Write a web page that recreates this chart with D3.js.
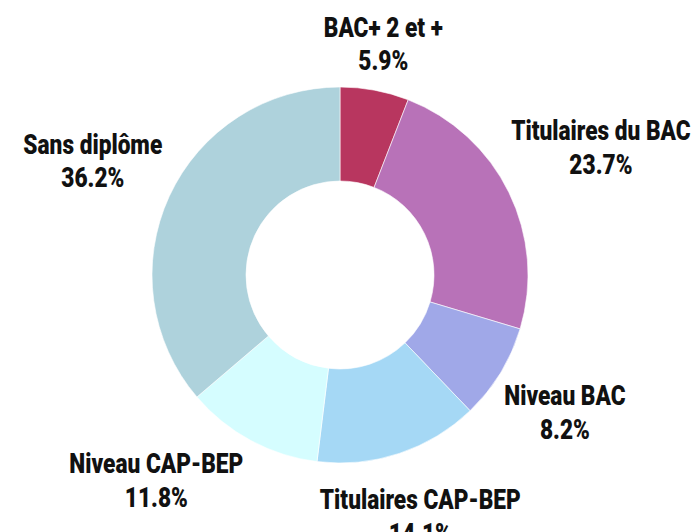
<!DOCTYPE html>
<html>
<head>
<meta charset="utf-8">
<script src="https://cdn.jsdelivr.net/npm/d3@7"></script>
<style>
	body { margin: 0; background: #fff; }
	.label text {
		font-family: "Roboto", "Noto Sans", sans-serif;
		font-weight: 900;
		font-size: 27px;
		fill: #111;
	}
</style>
</head>
<body>
<div id="wrapper"></div>
<script>

// Data

const categories = ["BAC+ 2 et +", "Titulaires du BAC", "Niveau BAC", "Titulaires CAP-BEP", "Niveau CAP-BEP", "Sans diplôme"];
const values = [5.9, 23.7, 8.2, 14.1, 11.8, 36.2];
const valueLabels = ["5.9%", "23.7%", "8.2%", "14.1%", "11.8%", "36.2%"];
const colors = ["#b8365f", "#b872b8", "#a0a8e8", "#a5d8f5", "#d5fdff", "#aed2dc"];

function drawDonut() {

	// 1. Dimensions

	let dimensions = {
		width: 699,
		height: 532,
		cx: 340,
		cy: 275,
		outerRadius: 188,
		innerRadius: 94,
		labelRadius: 198
	};

	// condensed look for the labels
	const squeeze = 0.84;

	// 2. Draw canvas

	const wrapper = d3.select("#wrapper")
		.append("svg")
		.attr("width", dimensions.width)
		.attr("height", dimensions.height);

	const bounds = wrapper.append("g")
		.attr("transform", `translate(${dimensions.cx},${dimensions.cy})`);

	// 3. Pie layout

	const pie = d3.pie()
		.sort(null)
		.value(d => d);

	const arcs = pie(values);

	const arcGenerator = d3.arc()
		.innerRadius(dimensions.innerRadius)
		.outerRadius(dimensions.outerRadius);

	const colorScale = d3.scaleOrdinal()
		.domain(categories)
		.range(colors);

	// 4. Draw slices

	bounds.selectAll(".slice")
		.data(arcs)
		.join("path")
		.attr("class", "slice")
		.attr("d", arcGenerator)
		.attr("fill", (d, i) => colorScale(categories[i]))
		.attr("stroke", "#fff")
		.attr("stroke-width", 0.6);

	// 5. Labels

	const labels = bounds.selectAll(".label")
		.data(arcs)
		.join("g")
		.attr("class", "label");

	labels.append("text")
		.attr("text-anchor", "middle")
		.attr("y", -7.4)
		.text((d, i) => categories[i]);

	labels.append("text")
		.attr("text-anchor", "middle")
		.attr("y", 26.3)
		.text((d, i) => valueLabels[i]);

	const halfHeight = 26.4;

	function boxAt(angle, halfWidth) {
		const s = Math.sin(angle), c = Math.cos(angle);
		const r = dimensions.labelRadius + halfWidth * Math.abs(s) + halfHeight * Math.abs(c);
		const x = s * r, y = -c * r;
		return {x, y, x0: x - halfWidth, x1: x + halfWidth, y0: y - halfHeight, y1: y + halfHeight};
	}

	const boxes = [];
	labels.each(function(d, i) {
		const halfWidth = this.getBBox().width * squeeze / 2;
		let angle = (d.startAngle + d.endAngle) / 2;
		let box = boxAt(angle, halfWidth);
		const prev = boxes[i - 1];
		// push the label along the ring while it crowds the previous one
		let steps = 0;
		while (prev && steps < 60) {
			const xGap = Math.max(prev.x0 - box.x1, box.x0 - prev.x1);
			const yGap = Math.max(prev.y0 - box.y1, box.y0 - prev.y1);
			if (!(xGap < 76 && yGap < 10)) break;
			angle += Math.PI / 360;
			box = boxAt(angle, halfWidth);
			steps++;
		}
		boxes.push(box);
		d3.select(this).attr("transform", `translate(${box.x},${box.y}) scale(${squeeze},1)`);
	});
}

drawDonut();
</script>
</body>
</html>
